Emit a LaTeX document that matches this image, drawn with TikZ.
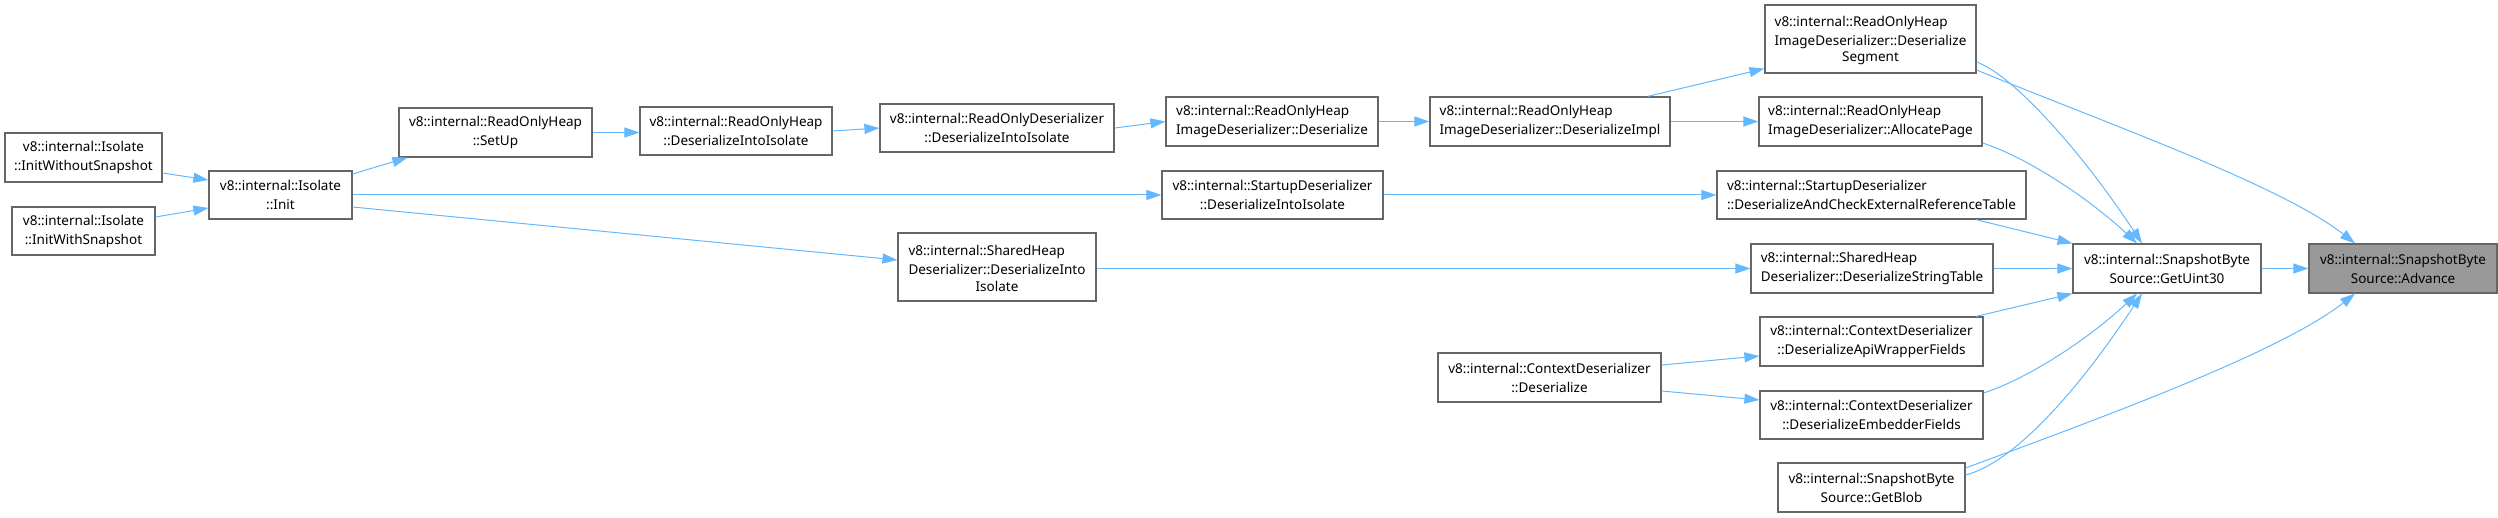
\documentclass[tikz,border=0pt]{standalone}
\usepackage{fontspec}
\setmainfont{Noto Sans}
\usetikzlibrary{arrows.meta}
\definecolor{edgec}{HTML}{63B8FF}
\definecolor{boxc}{HTML}{666666}
\definecolor{hlc}{HTML}{999999}
\newcommand\twol[2]{\begin{tabular}{@{}l@{}}#1\\#2\end{tabular}}
\tikzset{
 fn/.style={draw=boxc, line width=1.2pt, fill=white, inner sep=0pt, font=\fontsize{13.5}{19}\selectfont, text=black, align=center},
 fnl/.style={fn, align=left},
 link/.style={draw=edgec, line width=1pt, -{Triangle[length=15pt,width=10pt]}},
}
\begin{document}
\begin{tikzpicture}[x=1pt,y=-1pt]
\useasboundingbox (0,0) rectangle (2498,518);
% nodes
\node[fn, minimum width=157pt, minimum height=49pt] (iws) at (83.5,157.5) {v8::internal::Isolate\\::InitWithoutSnapshot};
\node[fn, minimum width=143pt, minimum height=48pt] (iwith) at (83.5,231) {v8::internal::Isolate\\::InitWithSnapshot};
\node[fn, minimum width=143pt, minimum height=48pt] (init) at (280.5,195) {v8::internal::Isolate\\::Init};
\node[fn, minimum width=193pt, minimum height=49pt] (setup) at (495.5,132.5) {v8::internal::ReadOnlyHeap\\::SetUp};
\node[fn, minimum width=192pt, minimum height=48pt] (rohdii) at (736,131) {v8::internal::ReadOnlyHeap\\::DeserializeIntoIsolate};
\node[fn, minimum width=234pt, minimum height=48pt] (roddii) at (997,128) {v8::internal::ReadOnlyDeserializer\\::DeserializeIntoIsolate};
\node[fnl, minimum width=212pt, minimum height=49pt] (rohid) at (1272,121.5) {v8::internal::ReadOnlyHeap\\ImageDeserializer::Deserialize};
\node[fnl, minimum width=240pt, minimum height=49pt] (impl) at (1550,121.5) {v8::internal::ReadOnlyHeap\\ImageDeserializer::DeserializeImpl};
\node[fn, minimum width=211pt, minimum height=68pt] (seg) at (1870.5,39) {\twol{v8::internal::ReadOnlyHeap}{ImageDeserializer::Deserialize}\\Segment};
\node[fnl, minimum width=223pt, minimum height=49pt] (alloc) at (1870.5,121.5) {v8::internal::ReadOnlyHeap\\ImageDeserializer::AllocatePage};
\node[fn, minimum width=221pt, minimum height=48pt] (sddii) at (1272.5,195) {v8::internal::StartupDeserializer\\::DeserializeIntoIsolate};
\node[fnl, minimum width=309pt, minimum height=48pt] (ext) at (1871.5,195) {v8::internal::StartupDeserializer\\::DeserializeAndCheckExternalReferenceTable};
\node[fn, minimum width=198pt, minimum height=68pt] (shdii) at (997,267) {\twol{v8::internal::SharedHeap}{Deserializer::DeserializeInto}\\Isolate};
\node[fnl, minimum width=242pt, minimum height=49pt] (strtab) at (1872,268.5) {v8::internal::SharedHeap\\Deserializer::DeserializeStringTable};
\node[fn, minimum width=188pt, minimum height=49pt] (getu) at (2167,268.5) {v8::internal::SnapshotByte\\Source::GetUint30};
\node[fn, fill=hlc, minimum width=188pt, minimum height=49pt] (adv) at (2403,268.5) {v8::internal::SnapshotByte\\Source::Advance};
\node[fn, minimum width=223pt, minimum height=49pt] (cdes) at (1549.5,377.5) {v8::internal::ContextDeserializer\\::Deserialize};
\node[fn, minimum width=223pt, minimum height=49pt] (api) at (1871.5,341.5) {v8::internal::ContextDeserializer\\::DeserializeApiWrapperFields};
\node[fn, minimum width=223pt, minimum height=48pt] (emb) at (1871.5,415) {v8::internal::ContextDeserializer\\::DeserializeEmbedderFields};
\node[fn, minimum width=187pt, minimum height=49pt] (blob) at (1871.5,487.5) {v8::internal::SnapshotByte\\Source::GetBlob};
% edges
\draw[link] ([yshift=-15.5pt]iws.east) -- ([yshift=15pt]init.west);
\draw[link] ([yshift=14pt]iwith.east) -- ([yshift=-13pt]init.west);
\draw[link] ([yshift=21pt]init.east) -- ([xshift=9pt]setup.south west);
\draw[link] (setup.east) -- (rohdii.west |- setup.east);
\draw[link] (rohdii.east) -- (roddii.west);
\draw[link] (roddii.east) -- (rohid.west);
\draw[link] (rohid.east) -- (impl.west);
\draw[link] ([xshift=-23pt]impl.north east) -- ([yshift=5pt]seg.south west);
\draw[link] (impl.east) -- (alloc.west);
\draw[link] (init.east) -- (sddii.west);
\draw[link] (sddii.east) -- (ext.west);
\draw[link] ([yshift=-12pt]init.east) -- ([yshift=7pt]shdii.west);
\draw[link] (shdii.east |- strtab.west) -- (strtab.west);
\draw[link] ([yshift=12.5pt]cdes.east) -- ([yshift=-14.5pt]api.west);
\draw[link] ([yshift=-13.5pt]cdes.east) -- ([yshift=15pt]emb.west);
% into GetUint30 / Advance
\draw[link] ([yshift=-23pt]seg.east) .. controls +(36,13) and +(-62,-94) .. ([xshift=-25pt]getu.north);
\draw[link] ([yshift=-31pt]seg.east) .. controls +(121,50) and +(-75,-59) .. ([xshift=-48pt]adv.north);
\draw[link] ([yshift=-21.5pt]alloc.east) .. controls +(46,15) and +(-47,-44) .. ([xshift=-30pt]getu.north);
\draw[link] ([xshift=104.5pt]ext.south) -- (getu.north west);
\draw[link] (strtab.east) -- (getu.west);
\draw[link] ([xshift=104.5pt]api.north) -- (getu.south west);
\draw[link] ([yshift=22pt]emb.east) .. controls +(46,-15) and +(-47,44) .. ([xshift=-30pt]getu.south);
\draw[link] ([yshift=12.5pt]blob.east) .. controls +(50,-13) and +(-62,94) .. ([xshift=-25pt]getu.south);
\draw[link] ([yshift=19.5pt]blob.east) .. controls +(135,-50) and +(-75,59) .. ([xshift=-48pt]adv.south);
\draw[link] (getu.east) -- (adv.west);
\end{tikzpicture}
\end{document}
